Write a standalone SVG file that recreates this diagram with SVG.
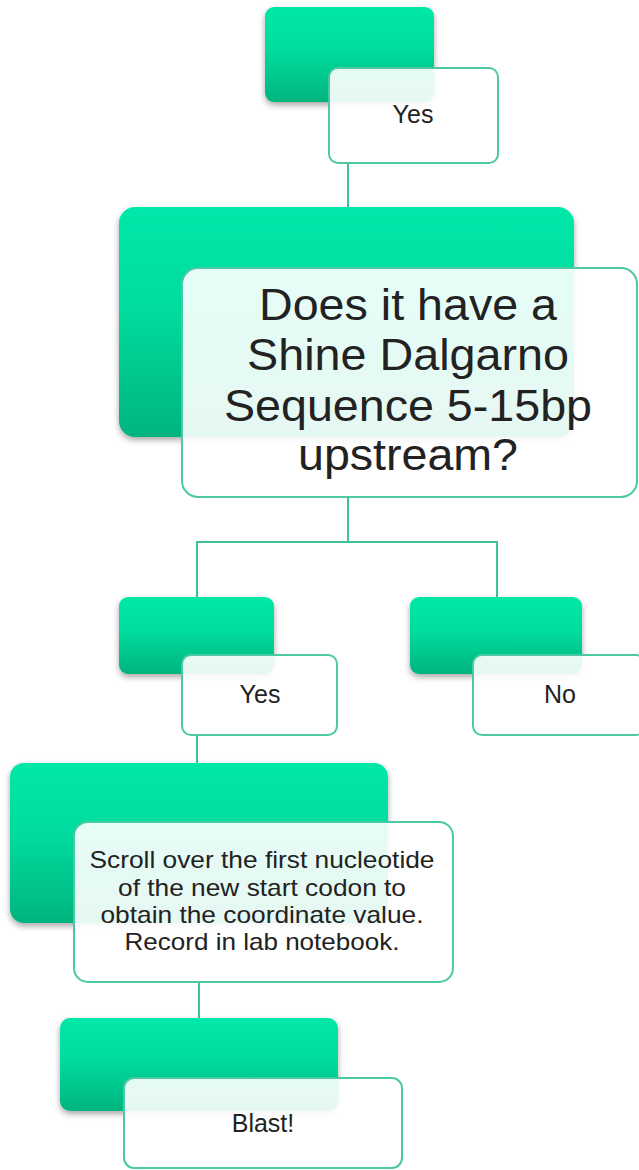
<svg xmlns="http://www.w3.org/2000/svg" width="639" height="1170" viewBox="0 0 639 1170">
<defs>
<linearGradient id="g" x1="0" y1="0" x2="0" y2="1">
<stop offset="0" stop-color="#03E8A9"/>
<stop offset="0.45" stop-color="#02DB9E"/>
<stop offset="1" stop-color="#00B47E"/>
</linearGradient>
<filter id="sh" x="-10%" y="-10%" width="120%" height="130%">
<feDropShadow dx="0" dy="3" stdDeviation="3" flood-color="#000" flood-opacity="0.35"/>
</filter>
<style>
.gr{fill:url(#g);filter:url(#sh)}
.wb{fill:#ffffff;fill-opacity:0.9;stroke:#4CC9A3;stroke-width:2}
.cn{stroke:#3FC29A;stroke-width:2;fill:none}
text{font-family:"Liberation Sans",Arial,sans-serif;fill:#222;text-anchor:middle}
.s{font-size:25px}
.b{font-size:44px}
.m{font-size:24px}
</style>
</defs>
<rect width="639" height="1170" fill="#fff"/>
<g id="connectors">
<path class="cn" d="M348 163V208"/>
<path class="cn" d="M348 497V542M197 597V542H497V597"/>
<path class="cn" d="M197 735V763"/>
<path class="cn" d="M199 982V1018"/>
</g>
<g id="n1">
<rect class="gr" x="265" y="7" width="169" height="95" rx="9"/>
<rect class="wb" x="329" y="68" width="169" height="95" rx="9"/>
<text class="s" x="413" y="123">Yes</text>
</g>
<g id="n2">
<rect class="gr" x="119" y="207" width="455" height="230" rx="16"/>
<rect class="wb" x="182" y="268" width="455" height="229" rx="16"/>
<text class="b" x="408" y="320" textLength="298" lengthAdjust="spacingAndGlyphs">Does it have a</text>
<text class="b" x="408" y="370" textLength="322" lengthAdjust="spacingAndGlyphs">Shine Dalgarno</text>
<text class="b" x="408" y="421" textLength="368" lengthAdjust="spacingAndGlyphs">Sequence 5-15bp</text>
<text class="b" x="408" y="470" textLength="220" lengthAdjust="spacingAndGlyphs">upstream?</text>
</g>
<g id="n3">
<rect class="gr" x="119" y="597" width="155" height="77" rx="9"/>
<rect class="wb" x="182" y="655" width="155" height="80" rx="9"/>
<text class="s" x="260" y="703">Yes</text>
</g>
<g id="n4">
<rect class="gr" x="410" y="597" width="172" height="77" rx="9"/>
<rect class="wb" x="473" y="655" width="172" height="80" rx="9"/>
<text class="s" x="560" y="703">No</text>
</g>
<g id="n5">
<rect class="gr" x="10" y="763" width="378" height="160" rx="14"/>
<rect class="wb" x="74" y="822" width="379" height="160" rx="14"/>
<text class="m" x="262" y="868" textLength="345" lengthAdjust="spacingAndGlyphs">Scroll over the first nucleotide</text>
<text class="m" x="262" y="896" textLength="288" lengthAdjust="spacingAndGlyphs">of the new start codon to</text>
<text class="m" x="262" y="923" textLength="323" lengthAdjust="spacingAndGlyphs">obtain the coordinate value.</text>
<text class="m" x="262" y="950" textLength="275" lengthAdjust="spacingAndGlyphs">Record in lab notebook.</text>
</g>
<g id="n6">
<rect class="gr" x="60" y="1018" width="278" height="93" rx="10"/>
<rect class="wb" x="124" y="1078" width="278" height="90" rx="10"/>
<text class="s" x="263" y="1132">Blast!</text>
</g>
</svg>
